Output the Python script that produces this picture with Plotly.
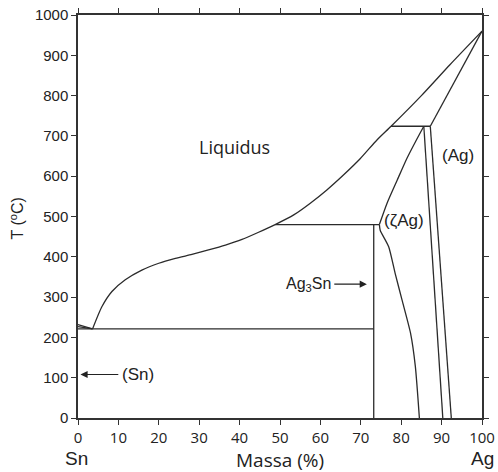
import plotly.graph_objects as go

# ---- data (composition in mass % Ag, temperature in °C) ----
liq_x = [3.6, 5.9, 8.4, 11.7, 15.8, 20.0, 24.1, 28.2, 32.3, 36.5, 40.6, 44.7, 48.8,
         53.4, 57.5, 61.6, 65.7, 69.9, 74.0, 77.5, 85.0, 92.0, 100.0]
liq_T = [221, 276, 314, 343, 367, 384, 396, 406, 417, 429, 443, 461, 480,
         504, 533, 566, 603, 644, 690, 724, 800, 876, 960]

sn_liq_x = [0, 3.6]
sn_liq_T = [232, 221]
sn_sol_x = [0, 3.6]
sn_sol_T = [227, 221]

eut_x = [0, 73.2]
eut_T = [221, 221]

ag3sn_x = [73.2, 73.2]
ag3sn_T = [0, 480]

per480_x = [48.8, 74.6]
per480_T = [480, 480]

zeta_up_x = [74.6, 76.5, 79.0, 81.4, 83.5, 85.6]
zeta_up_T = [480, 533, 590, 644, 685, 724]

zeta_low_x = [74.6, 74.8, 76.9, 78.5, 80.2, 82.3, 83.5, 84.5]
zeta_low_T = [480, 466, 425, 359, 293, 211, 128, 0]

zeta_right_x = [85.6, 90.3]
zeta_right_T = [724, 0]

per724_x = [77.5, 87.2]
per724_T = [724, 724]

ag_solvus_x = [87.2, 92.4]
ag_solvus_T = [724, 0]

ag_solidus_x = [87.2, 100.0]
ag_solidus_T = [724, 960]

x_ticks = list(range(0, 101, 10))
y_ticks = list(range(0, 1001, 100))

LINE = dict(color="#2b2b2b", width=1.3)

fig = go.Figure()
curved = {0, 6, 7}
for i, (xs, ys) in enumerate([(liq_x, liq_T), (sn_liq_x, sn_liq_T), (sn_sol_x, sn_sol_T),
               (eut_x, eut_T), (ag3sn_x, ag3sn_T), (per480_x, per480_T),
               (zeta_up_x, zeta_up_T), (zeta_low_x, zeta_low_T),
               (zeta_right_x, zeta_right_T), (per724_x, per724_T),
               (ag_solvus_x, ag_solvus_T), (ag_solidus_x, ag_solidus_T)]):
    ln = dict(LINE)
    if i in curved:
        ln.update(shape="spline", smoothing=0.6)
    fig.add_trace(go.Scatter(x=xs, y=ys, mode="lines", line=ln,
                             showlegend=False, hoverinfo="skip"))

SANS = "Liberation Sans, Arial, sans-serif"
OPEN = "Open Sans, sans-serif"
TXT = "#222"
C = dict(xanchor="center", yanchor="middle", showarrow=False)
ARW = dict(showarrow=True, arrowhead=2, arrowsize=1.2, arrowwidth=1.2, arrowcolor=TXT,
           axref="x", ayref="y", xanchor="center", yanchor="middle", borderpad=0,
           startstandoff=3)

annotations = [
    dict(x=38.7, y=672, text="Liquidus", font=dict(family=OPEN, size=18, color=TXT), **C),
    dict(x=94.0, y=652, text="(Ag)", font=dict(family=SANS, size=17, color=TXT), **C),
    dict(x=80.8, y=489, text="(ζAg)", font=dict(family=SANS, size=17, color=TXT), **C),
    dict(x=71.5, y=332, ax=57.0, ay=332, text="Ag<sub>3</sub>Sn",
         font=dict(family=SANS, size=16, color=TXT), **ARW),
    dict(x=0.6, y=108, ax=14.8, ay=108, text="(Sn)",
         font=dict(family=SANS, size=17, color=TXT), **ARW),
    dict(x=-0.003, y=-0.1, xref="paper", yref="paper", text="Sn",
         font=dict(family=SANS, size=19, color=TXT), **C),
    dict(x=100, y=-0.1, yref="paper", text="Ag",
         font=dict(family=SANS, size=19, color=TXT), **C),
    dict(x=0.5, y=-0.103, xref="paper", yref="paper", text="Massa (%)",
         font=dict(family=OPEN, size=19, color=TXT), **C),
    dict(x=-0.152, y=0.494, xref="paper", yref="paper", text="T (<sup>o</sup>C)",
         textangle=-90, font=dict(family=SANS, size=16, color=TXT), **C),
]

fig.update_layout(
    width=498, height=472,
    margin=dict(l=78, r=16, t=15, b=54),
    plot_bgcolor="white", paper_bgcolor="white",
    annotations=annotations,
    xaxis=dict(range=[0, 100], tickvals=x_ticks, ticks="outside", ticklen=5,
               tickcolor="#333", showline=True, linecolor="#333", linewidth=1.5,
               mirror="ticks", showgrid=False, zeroline=False, automargin=False,
               tickfont=dict(family=OPEN, size=15, color=TXT)),
    yaxis=dict(range=[0, 1000], tickvals=y_ticks, ticks="outside", ticklen=5,
               tickcolor="#333", showline=True, linecolor="#333", linewidth=1.5,
               mirror="ticks", showgrid=False, zeroline=False, automargin=False,
               tickfont=dict(family=SANS, size=15, color=TXT)),
)

fig.write_html("out.html", config={"displayModeBar": False},
               post_script="document.body.style.margin='0';document.body.style.overflow='hidden';")
